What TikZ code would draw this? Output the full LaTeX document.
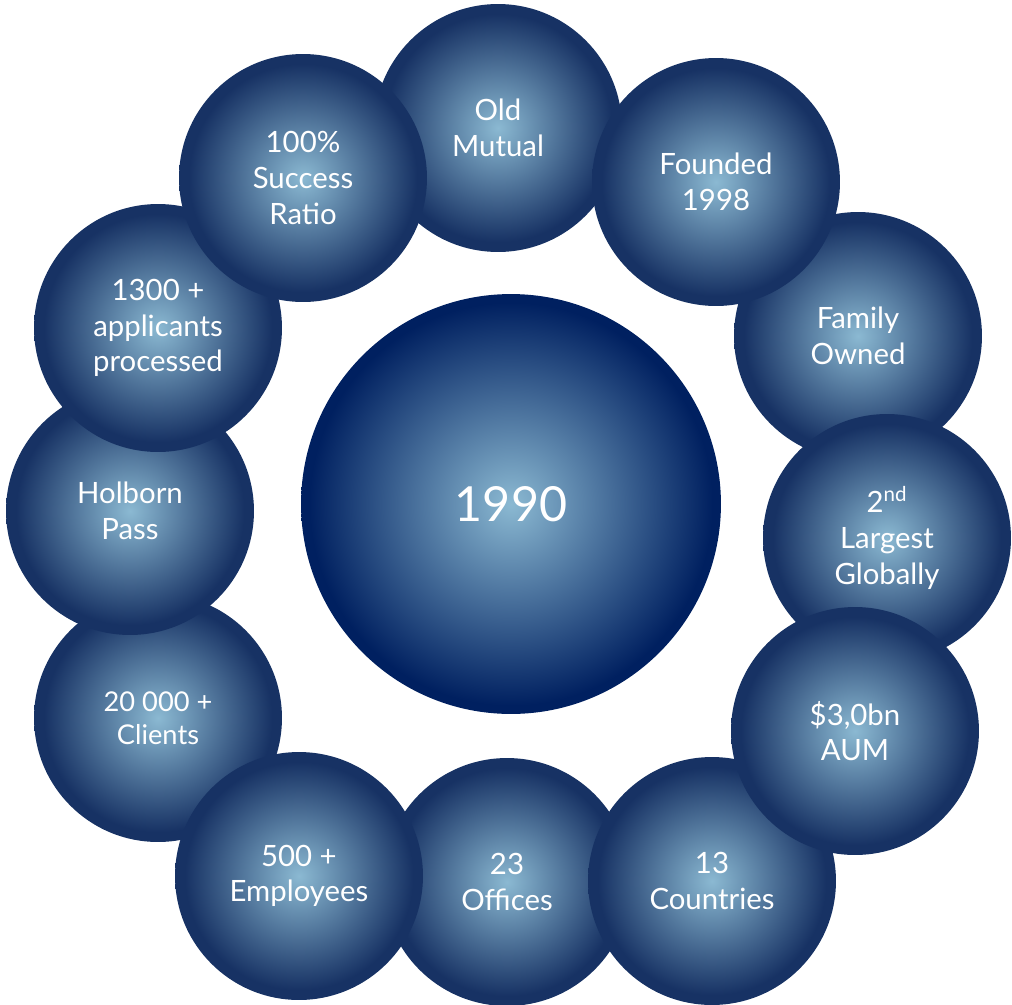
\documentclass[tikz,border=0pt]{standalone}
\usepackage{fontspec}
\setmainfont{Lato}
\usetikzlibrary{positioning}

\definecolor{ringdark}{RGB}{23,50,100}
\definecolor{ringlight}{RGB}{139,185,210}
\definecolor{hubdark}{RGB}{0,32,96}

\pgfdeclareradialshading{ringball}{\pgfpointorigin}{color(0bp)=(ringlight);color(23bp)=(ringdark);color(50bp)=(ringdark)}
\pgfdeclareradialshading{hubball}{\pgfpointorigin}{color(0bp)=(ringlight);color(24bp)=(hubdark);color(50bp)=(hubdark)}

\def\ringD{4.96cm}
\def\hubD{8.4cm}

\tikzset{
  bubble/.style={circle, inner sep=0pt, minimum size=\ringD, shade, shading=ringball,
    text=white, align=center, font=\fontsize{16.7}{20.3}\selectfont},
  small bubble/.style={bubble, font=\fontsize{15.5}{19}\selectfont},
  hub/.style={circle, inner sep=0pt, minimum size=\hubD, shade, shading=hubball,
    text=white, font=\fontsize{27.5}{32}\selectfont},
}

\begin{document}
\begin{tikzpicture}[x=0.02cm, y=-0.02cm]

\useasboundingbox (0,0) rectangle (1012,1005);

\node[hub] (year) at (511,504) {1990};

% drawn in this order so the overlaps come out right
\foreach \name/\x/\y/\kind/\txt in {
    oldmutual/498/128/bubble/{Old\\Mutual},
    family/858/336/bubble/{Family\\Owned},
    largest/887/538/bubble/{2\textsuperscript{nd}\\Largest\\Globally},
    offices/507/882/bubble/{23\\Offices},
    countries/712/881/bubble/{13\\Countries},
    aum/855/731/bubble/{\$3,0bn\\AUM},
    clients/158/718/small bubble/{20 000 +\\Clients},
    holborn/130/511/bubble/{Holborn\\Pass},
    applicants/158/328/bubble/{1300 +\\applicants\\processed},
    success/303/178/bubble/{100\%\\Success\\Ratio},
    founded/716/182/bubble/{Founded\\1998},
    staff/299/876/bubble/{500 +\\Employees}} {
  \node[\kind] (\name) at (\x,\y) {\txt};
}

\end{tikzpicture}
\end{document}
